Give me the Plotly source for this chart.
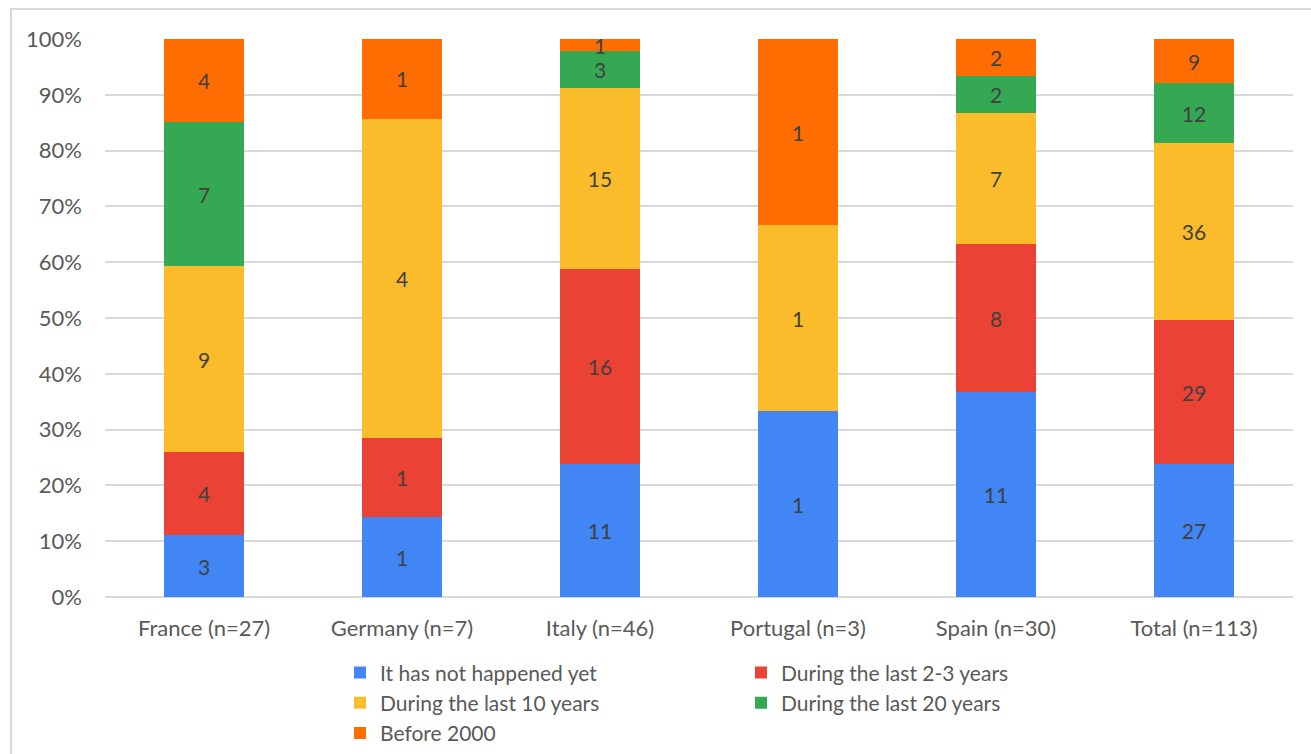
import plotly.graph_objects as go

# Respondents per country, split by when the event happened (counts)
categories = ["France (n=27)", "Germany (n=7)", "Italy (n=46)",
              "Portugal (n=3)", "Spain (n=30)", "Total (n=113)"]
series_names = ["It has not happened yet", "During the last 2-3 years",
                "During the last 10 years", "During the last 20 years",
                "Before 2000"]
not_yet = [3, 1, 11, 1, 11, 27]
last_2_3 = [4, 1, 16, 0, 8, 29]
last_10 = [9, 4, 15, 1, 7, 36]
last_20 = [7, 0, 3, 0, 2, 12]
before_2000 = [4, 1, 1, 1, 2, 9]
y_ticks = [0, 10, 20, 30, 40, 50, 60, 70, 80, 90, 100]
y_tick_labels = [f"{v}%" for v in y_ticks]

colors = ["#4285F4", "#EA4335", "#FBBC2C", "#34A853", "#FF6D01"]
series = [not_yet, last_2_3, last_10, last_20, before_2000]

FONT = "Lato, 'Open Sans', sans-serif"
W, H = 1311, 754
L, R, T, B = 105, 18, 39, 157
pw, ph = W - L - R, H - T - B

fig = go.Figure()
for name, vals, col in zip(series_names, series, colors):
    fig.add_trace(go.Bar(
        name=name, x=categories, y=vals,
        marker=dict(color=col, line=dict(width=0)),
        text=[str(v) if v else "" for v in vals],
        textposition="inside", insidetextanchor="middle",
        textangle=0, constraintext="none",
        textfont=dict(family=FONT, size=21, color="#404040"),
        width=0.4,
    ))

# Light frame around the chart
fig.add_shape(type="rect", xref="paper", yref="paper",
              x0=(11 - L) / pw, x1=(W + 20 - L) / pw,
              y0=-0.6, y1=(H - B - 9) / ph,
              line=dict(color="#D9D9D9", width=2), fillcolor="rgba(0,0,0,0)",
              layer="below")

fig.update_layout(
    width=W, height=H,
    barmode="stack", barnorm="percent",
    margin=dict(l=L, r=R, t=T, b=B, autoexpand=False),
    paper_bgcolor="white", plot_bgcolor="white",
    font=dict(family=FONT, size=22, color="#595959"),
    showlegend=True,
    legend=dict(orientation="h", x=(340 - L) / pw, xanchor="left",
                y=-0.099, yanchor="top", traceorder="normal",
                entrywidth=356, font=dict(size=21, color="#595959"),
                itemclick=False),
    xaxis=dict(showgrid=False, showline=False, ticks="",
               ticklabelstandoff=16),
    yaxis=dict(range=[0, 100], tickvals=y_ticks, ticktext=y_tick_labels,
               showgrid=True, gridcolor="#D9D9D9", gridwidth=1.5,
               zeroline=True, zerolinecolor="#D9D9D9", zerolinewidth=1.5,
               showline=False, ticks="", ticklabelstandoff=22),
)

fig.write_html("out.html")
